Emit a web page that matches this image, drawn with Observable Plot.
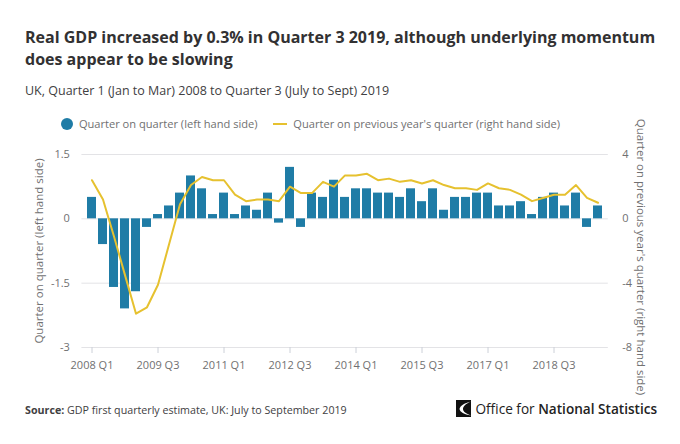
<!DOCTYPE html>
<html>
<head>
<meta charset="utf-8">
<script src="https://cdn.jsdelivr.net/npm/d3@7"></script>
<script src="https://cdn.jsdelivr.net/npm/@observablehq/plot@0.6"></script>
<style>
  html, body { margin: 0; padding: 0; background: #fff; }
  #wrap { position: relative; width: 680px; height: 444px; font-family: "Open Sans", sans-serif; overflow: hidden; }
  .abs { position: absolute; white-space: nowrap; }
  #title { left: 25px; top: 26px; font-size: 16px; font-weight: 700; color: #323132; line-height: 22px; }
  #subtitle { left: 25px; top: 82px; font-size: 12.5px; color: #414042; }
  #legend { left: 60px; top: 116px; font-size: 11.1px; color: #707071; }
  #ylabL { left: 38px; top: 251px; font-size: 11.5px; color: #707071; transform: translate(-50%, -50%) rotate(-90deg); }
  #ylabR { left: 641px; top: 257px; font-size: 11.5px; color: #707071; transform: translate(-50%, -50%) rotate(90deg); }
  #source { left: 25px; top: 403px; font-size: 10.7px; color: #414042; }
  #ons { left: 455px; top: 399px; font-size: 13.6px; color: #222; }
  #chart { left: 0px; top: 130px; }
</style>
</head>
<body>
<div id="wrap">
  <div id="title" class="abs">Real GDP increased by 0.3% in Quarter 3 2019, although underlying momentum<br>does appear to be slowing</div>
  <div id="subtitle" class="abs">UK, Quarter 1 (Jan to Mar) 2008 to Quarter 3 (July to Sept) 2019</div>
  <div id="legend" class="abs">
    <svg width="14" height="14" style="vertical-align:-3px"><circle cx="7" cy="7" r="6" fill="#1f7ca6"></circle></svg>
    <span style="margin-left:2px">Quarter on quarter (left hand side)</span>
    <svg width="16" height="14" style="vertical-align:-3px;margin-left:12px"><line x1="1" x2="15" y1="7" y2="7" stroke="#e6c12f" stroke-width="2"></line></svg>
    <span style="margin-left:2px">Quarter on previous year's quarter (right hand side)</span>
  </div>
  <div id="ylabL" class="abs">Quarter on quarter (left hand side)</div>
  <div id="ylabR" class="abs">Quarter on previous year's quarter (right hand side)</div>
  <div id="chart" class="abs"></div>
  <div id="source" class="abs"><b>Source:</b> GDP first quarterly estimate, UK: July to September 2019</div>
  <div id="ons" class="abs">
    <svg width="17" height="19" style="vertical-align:-4px">
      <path d="M1,1 L16,1 L16,18 L1,18 Z" fill="#111"></path>
      <path d="M16,2.5 C9,4 5,7 4.5,10 C5,13 9,15.5 16,16.5 C11,14.5 8,12.5 8,10 C8,7.5 11,4.5 16,2.5 Z" fill="#fff"></path>
    </svg>
    <span>Office for <b style="font-weight:600">National Statistics</b></span>
  </div>
</div>
<script>
const quarters = [
  "2008 Q1","2008 Q2","2008 Q3","2008 Q4",
  "2009 Q1","2009 Q2","2009 Q3","2009 Q4",
  "2010 Q1","2010 Q2","2010 Q3","2010 Q4",
  "2011 Q1","2011 Q2","2011 Q3","2011 Q4",
  "2012 Q1","2012 Q2","2012 Q3","2012 Q4",
  "2013 Q1","2013 Q2","2013 Q3","2013 Q4",
  "2014 Q1","2014 Q2","2014 Q3","2014 Q4",
  "2015 Q1","2015 Q2","2015 Q3","2015 Q4",
  "2016 Q1","2016 Q2","2016 Q3","2016 Q4",
  "2017 Q1","2017 Q2","2017 Q3","2017 Q4",
  "2018 Q1","2018 Q2","2018 Q3","2018 Q4",
  "2019 Q1","2019 Q2","2019 Q3"
];
const qoq = [0.5,-0.6,-1.6,-2.1, -1.7,-0.2,0.1,0.3, 0.6,1.0,0.7,0.1, 0.6,0.1,0.3,0.2,
  0.6,-0.1,1.2,-0.2, 0.6,0.5,0.9,0.5, 0.7,0.7,0.6,0.6, 0.5,0.7,0.4,0.7,
  0.2,0.5,0.5,0.6, 0.6,0.3,0.3,0.4, 0.1,0.5,0.6,0.3, 0.6,-0.2,0.3];
const yoy = [2.4,1.2,-1.1,-3.5, -5.9,-5.5,-4.1,-1.6, 0.9,2.1,2.6,2.4, 2.4,1.5,1.1,1.2,
  1.2,1.1,2.0,1.6, 1.6,2.3,2.0,2.7, 2.7,2.8,2.4,2.5, 2.3,2.4,2.2,2.4,
  2.1,1.9,1.9,1.8, 2.2,1.9,1.8,1.5, 1.1,1.3,1.5,1.5, 2.1,1.3,1.0];
const xTicks = ["2008 Q1","2009 Q3","2011 Q1","2012 Q3","2014 Q1","2015 Q3","2017 Q1","2018 Q3"];
const leftTicks = [1.5, 0, -1.5, -3];
const rightTicks = [4, 0, -4, -8];

// right axis maps onto left scale: right = left * 8/3
const ratio = 8 / 3;
const rows = quarters.map((q, i) => ({q, qoq: qoq[i], yoy: yoy[i], yoyL: yoy[i] / ratio}));

const chart = Plot.plot({
  width: 680,
  height: 250,
  marginTop: 24,
  marginBottom: 33,
  marginLeft: 81.4,
  marginRight: 72.2,
  style: {fontFamily: "Open Sans, sans-serif", fontSize: "11px", color: "#707071", background: "transparent"},
  x: {type: "band", domain: quarters, padding: 0.2, align: 0.5},
  y: {domain: [-3, 1.5]},
  marks: [
    Plot.gridY(leftTicks, {stroke: "#e3e3e6", strokeOpacity: 1}),
    Plot.barY(rows, {x: "q", y: "qoq", fill: "#1f7ca6"}),
    Plot.line(rows, {x: "q", y: "yoyL", stroke: "#e6c12f", strokeWidth: 2, curve: "linear"}),
    Plot.axisY({anchor: "left", ticks: leftTicks, tickSize: 0, tickPadding: 12, label: null, tickFormat: d => String(d), fill: "#707071"}),
    Plot.axisY({anchor: "right", ticks: rightTicks.map(d => d / ratio), tickSize: 0, tickPadding: 14, label: null,
      tickFormat: d => String(Math.round(d * ratio)), fill: "#707071", textAnchor: "start"}),
    Plot.axisX({ticks: xTicks, tickSize: 6, tickPadding: 8, label: null, stroke: "#ccd0d8", fill: "#707071"})
  ]
});
document.getElementById("chart").appendChild(chart);
</script>
</body>
</html>
